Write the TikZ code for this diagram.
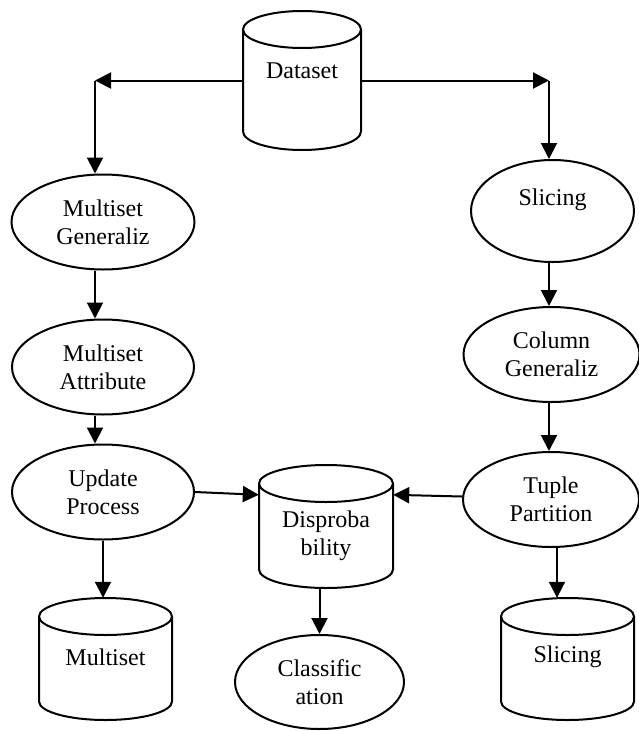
\documentclass[tikz,border=0pt]{standalone}
\usepackage{fontspec}
\setmainfont{Liberation Serif}
\usetikzlibrary{shapes.geometric,arrows.meta,calc}
\newcommand\drawdb[5]{% #1 name, #2 cx, #3 top, #4 bottom, #5 rx
  \node[dbbox, minimum width={2*#5}, minimum height={#4-#3}] (#1) at (#2,{(#3+#4)/2}) {};
  \draw[lw] (#2,#3+18.5) ellipse [x radius=#5, y radius=18.5];
  \draw[lw] (#2-#5,#3+18.5) -- (#2-#5,#4-18.5) arc [start angle=180, end angle=0, x radius=#5, y radius=18.5] -- (#2+#5,#3+18.5);
}
\begin{document}
\begin{tikzpicture}[x=1pt,y=-1pt,
  lw/.style={line width=2pt},
  txt/.style={font=\fontsize{24}{28}\selectfont},
  proc/.style={ellipse, draw, lw, inner sep=0pt, align=center, txt},
  dbbox/.style={rectangle, inner sep=0pt, draw=none},
  lbl/.style={align=center, inner sep=0pt, txt},
  arr/.style={lw, -{Triangle[length=16pt,width=16pt]}}]
\useasboundingbox (0,0) rectangle (639,731);

% cylinders
\drawdb{ds}{302}{11}{150}{59}
\node[lbl] (dsT) at (302,71) {Dataset};
\drawdb{dp}{326}{465}{588}{67}
\node[lbl] (dpT) at (326,536) {Disproba\\bility};
\drawdb{mc}{105.5}{598}{720}{66.5}
\node[lbl] (mcT) at (105.5,657) {Multiset};
\drawdb{sc}{567.5}{598}{720}{66.5}
\node[lbl] (scT) at (567.5,657) {Slicing};

% processes
\node[proc, minimum width=183, minimum height=95] (mg) at (103,222) {Multiset\\Generaliz};
\node[proc, minimum width=182, minimum height=95] (ma) at (103,367) {Multiset\\Attribute};
\node[proc, minimum width=182, minimum height=95] (up) at (103,492) {Update\\Process};
\node[proc, minimum width=163, minimum height=102] (sl) at (552.5,211) {Slicing\\\mbox{}};
\node[proc, minimum width=176, minimum height=95] (cg) at (551.5,354.5) {Column\\Generaliz};
\node[proc, minimum width=176, minimum height=95] (tp) at (551,499.5) {Tuple\\Partition};
\node[proc, minimum width=169, minimum height=94] (cf) at (319.5,682) {Classific\\ation};

% connectors
\coordinate (cl) at (95,80.5);
\coordinate (cr) at (549,80.5);
\draw[arr] (ds.west) -- (cl);
\draw[arr] (cl) -- (cl |- mg.north);
\draw[arr] (ds.east) -- (cr);
\draw[arr] (cr) -- (cr |- sl.north);
\draw[arr] (mg.south -| cl) -- (ma.north -| cl);
\draw[arr] (ma.south -| cl) -- (up.north -| cl);
\draw[arr] (up.south) -- (up.south |- mc.north);
\draw[arr] (up.east) -- ($(dp.north west)+(0,30)$);
\draw[arr] (sl.south -| cr) -- (cg.north -| cr);
\draw[arr] (cg.south -| cr) -- (tp.north -| cr);
\draw[arr] ($(tp.west)+(0,-3)$) -- ($(dp.north east)+(0,30)$);
\draw[arr] ($(tp.south)+(6,0)$) -- ($(tp.south |- sc.north)+(6,0)$);
\draw[arr] (dp.south -| cf.north) -- (cf.north);
\end{tikzpicture}
\end{document}
